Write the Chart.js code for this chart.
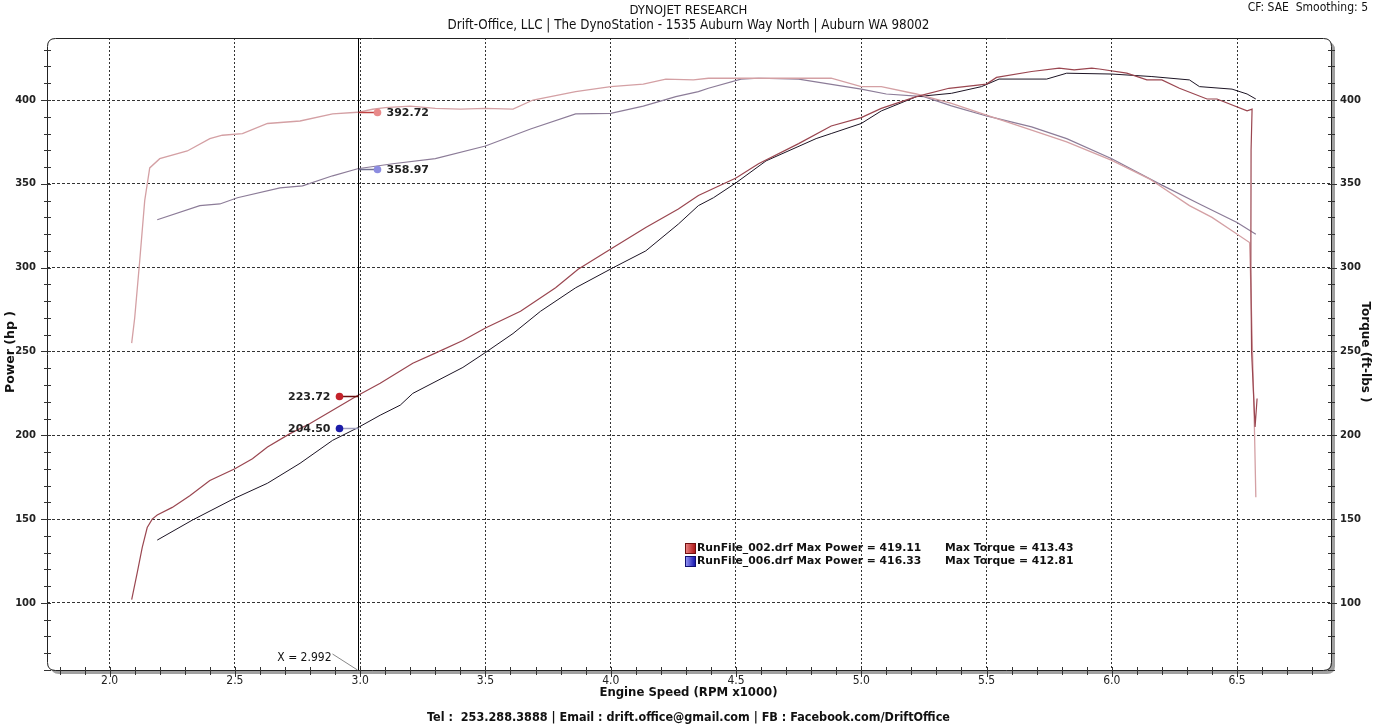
<!DOCTYPE html>
<html><head><meta charset="utf-8">
<script src="https://cdn.jsdelivr.net/npm/chart.js@4.4.1/dist/chart.umd.min.js"></script>
<style>
html,body{margin:0;padding:0;background:#fff;width:1377px;height:724px;overflow:hidden}
#wrap{position:relative;width:1377px;height:724px}
canvas{position:absolute;left:0;top:0}
.t{position:absolute;white-space:pre;color:#111;line-height:14px}
.c{font-family:"DejaVu Sans Condensed","Liberation Sans Narrow",sans-serif}
.b{font-family:"DejaVu Sans","Verdana",sans-serif;font-weight:bold}
.box{position:absolute;width:9px;height:9px}
</style></head><body>
<div id="wrap">
<canvas id="c" width="1377" height="724"></canvas>
<div class="t c" style="left:0;width:1377px;text-align:center;top:3px;font-size:13px">DYNOJET RESEARCH</div>
<div class="t c" style="left:0;width:1377px;text-align:center;top:18px;font-size:13.3px">Drift-Office, LLC | The DynoStation - 1535 Auburn Way North | Auburn WA 98002</div>
<div class="t c" style="right:9px;top:0px;font-size:12px">CF: SAE  Smoothing: 5</div>
<div class="t c" style="left:0;width:1377px;text-align:center;top:685px;font-size:13px;font-weight:bold">Engine Speed (RPM x1000)</div>
<div class="t c" style="left:0;width:1377px;text-align:center;top:710px;font-size:12.5px;font-weight:bold">Tel :  253.288.3888 | Email : drift.office@gmail.com | FB : Facebook.com/DriftOffice</div>
<div class="t b" style="left:-90px;width:200px;text-align:center;top:345px;font-size:12.5px;transform:rotate(-90deg)">Power (hp )</div>
<div class="t b" style="left:1266px;width:200px;text-align:center;top:345px;font-size:12px;transform:rotate(90deg)">Torque (ft-lbs )</div>
<div class="box" style="left:685px;top:543px;background:linear-gradient(to right,#e88080,#b01818);border:1px solid #701010"></div>
<div class="t b" style="left:697px;top:541px;font-size:10.8px">RunFile_002.drf Max Power = 419.11</div>
<div class="t b" style="left:945px;top:541px;font-size:10.8px">Max Torque = 413.43</div>
<div class="box" style="left:685px;top:556px;background:linear-gradient(to right,#9090f0,#1818b0);border:1px solid #101070"></div>
<div class="t b" style="left:697px;top:554px;font-size:10.8px">RunFile_006.drf Max Power = 416.33</div>
<div class="t b" style="left:945px;top:554px;font-size:10.8px">Max Torque = 412.81</div>
</div>
<script>
// ---- data ----
const p002Rpm = [2.088,2.11,2.13,2.15,2.17,2.19,2.25,2.32,2.40,2.50,2.57,2.63,2.72,2.80,2.89,2.99,3.08,3.21,3.30,3.41,3.50,3.64,3.78,3.87,4.01,4.14,4.27,4.35,4.50,4.59,4.75,4.88,5.00,5.08,5.22,5.35,5.50,5.54,5.68,5.79,5.85,5.92,5.95,6.06,6.14,6.20,6.27,6.38,6.42,6.54,6.56,6.556,6.555,6.558,6.572,6.58];
const p002Hp  = [102,118,133,145,150,152.5,157,164,173,180,186,193,201,207,215,223.7,231,243,249,256.5,264,274,288,299,312,324,335,343,353.5,362,374,384.5,389.5,395,402,407,409.5,413.5,417,419,418,419,418.5,416,412,412,407,400.6,400.6,393.5,394.6,370,300,250,205,222];
const p006Rpm = [2.19,2.33,2.50,2.63,2.76,2.89,2.99,3.08,3.16,3.21,3.41,3.50,3.61,3.72,3.86,4.01,4.14,4.27,4.35,4.41,4.50,4.62,4.82,4.88,5.00,5.08,5.22,5.36,5.48,5.55,5.74,5.82,6.00,6.16,6.31,6.35,6.48,6.54,6.575];
const p006Hp  = [137.5,149.4,162.5,171.4,183.3,197,204.5,212,218,225,240.5,249.4,260.7,274,288,300,310,326,337,341.7,350.6,363.7,377,380,386,393.5,402,404,408,412.5,412.5,416,415.5,414,412,408,406.5,403.6,400.6];
const t002Rpm = [2.088,2.10,2.12,2.14,2.16,2.20,2.31,2.40,2.45,2.53,2.63,2.76,2.89,2.99,3.05,3.10,3.20,3.30,3.40,3.50,3.61,3.69,3.86,4.00,4.13,4.22,4.33,4.39,4.59,4.68,4.88,5.00,5.08,5.22,5.36,5.50,5.68,5.82,6.00,6.15,6.31,6.40,6.48,6.55,6.553,6.56,6.57,6.575];
const t002Tq  = [255,270,304,340,359.5,365,369.6,377,379,380,386,387.5,391.7,392.7,394.5,395.5,396.4,395,394.6,395,394.6,400,405,408,409.5,412.5,412,413,413,413,413,408,408,403.6,398,391,382,375,364,353,337,330,322,315,300,260,200,163];
const t006Rpm = [2.19,2.36,2.44,2.51,2.68,2.77,2.89,2.99,3.13,3.30,3.50,3.68,3.86,4.00,4.13,4.26,4.35,4.39,4.52,4.59,4.75,5.00,5.10,5.25,5.36,5.50,5.68,5.82,6.00,6.19,6.35,6.50,6.575];
const t006Tq  = [328.6,337,338,341.7,347.6,348.8,354.8,359,362,365,372.6,382.7,391.7,392,396.4,402,405,407,412.5,413,412.5,406.5,403.6,402,396.5,390.5,384,377,365,350,338,327,320];
const xTickValues = [2.0,2.5,3.0,3.5,4.0,4.5,5.0,5.5,6.0,6.5];
const yTickValues = [100,150,200,250,300,350,400];
const cursorRpm = 2.992;
const cursorValues = [223.72, 204.50, 392.72, 358.97];

const pts = (xs, ys) => xs.map((x,i)=>({x:x, y:ys[i]}));
const L=47, R=1331, T=38, B=670;

const framePlugin = {
  id:'frame',
  beforeDraw(chart){
    const {ctx, chartArea:a} = chart;
    ctx.save();
    ctx.fillStyle='#a0a0a0';
    rr(ctx,a.left+4,a.top+4,a.right-a.left,a.bottom-a.top,8); ctx.fill();
    ctx.fillStyle='#fff';
    rr(ctx,a.left,a.top,a.right-a.left,a.bottom-a.top,8); ctx.fill();
    ctx.restore();
  },
  afterDraw(chart){
    const {ctx, chartArea:a, scales} = chart;
    ctx.save();
    ctx.strokeStyle='#222'; ctx.lineWidth=1;
    rr(ctx,a.left+0.5,a.top+0.5,a.right-a.left,a.bottom-a.top,8); ctx.stroke();
    // minor ticks
    ctx.strokeStyle='#333';
    ctx.beginPath();
    for(let v=60; v<=430; v+=10){
      const y=Math.round(scales.y.getPixelForValue(v))+0.5;
      const m = v%50===0;
      ctx.moveTo(a.left-(m?6:3),y); ctx.lineTo(a.left+4,y);
      ctx.moveTo(a.right-3,y); ctx.lineTo(a.right+(m?6:4),y);
    }
    for(let k=18; k<=68; k++){
      const v=k/10;
      const x=Math.round(scales.x.getPixelForValue(v))+0.5;
      const m = k%5===0;
      ctx.moveTo(x,a.bottom-3); ctx.lineTo(x,a.bottom+(m?7:5));
    }
    ctx.stroke();
    // cursor
    const cx=Math.round(scales.x.getPixelForValue(cursorRpm))+0.5;
    ctx.strokeStyle='#000';
    ctx.beginPath(); ctx.moveTo(cx,a.top); ctx.lineTo(cx,a.bottom); ctx.stroke();
    ctx.strokeStyle='#888';
    ctx.beginPath(); ctx.moveTo(cx-26,a.bottom-16); ctx.lineTo(cx-1,a.bottom); ctx.stroke();
    ctx.fillStyle='#111';
    ctx.font='12px "DejaVu Sans Condensed","Liberation Sans Narrow",sans-serif';
    ctx.textAlign='right'; ctx.textBaseline='middle';
    ctx.fillText('X = '+cursorRpm.toFixed(3), cx-27, a.bottom-12);
    // value markers
    const mk = [
      {v:cursorValues[0], side:-1, dot:'#c4222a', line:'#6a1010'},
      {v:cursorValues[1], side:-1, dot:'#1c1ca8', line:'#a0a0c0'},
      {v:cursorValues[2], side:1, dot:'#e88a8a', line:'#c04040'},
      {v:cursorValues[3], side:1, dot:'#8c8ce0', line:'#707090'}
    ];
    ctx.font='bold 11px "DejaVu Sans",sans-serif';
    mk.forEach(m=>{
      const y=Math.round(scales.y.getPixelForValue(m.v))+0.5;
      const dx = cx + m.side*19;
      ctx.strokeStyle=m.line; ctx.lineWidth=1.5;
      ctx.beginPath(); ctx.moveTo(cx,y); ctx.lineTo(dx,y); ctx.stroke();
      ctx.fillStyle=m.dot;
      ctx.beginPath(); ctx.arc(dx,y,3.8,0,Math.PI*2); ctx.fill();
      ctx.fillStyle='#222';
      ctx.textAlign = m.side<0?'right':'left';
      ctx.fillText(m.v.toFixed(2), dx + m.side*9, y+1);
    });
    ctx.restore();
  }
};
function rr(ctx,x,y,w,h,r){
  ctx.beginPath();
  ctx.moveTo(x+r,y); ctx.lineTo(x+w-r,y); ctx.quadraticCurveTo(x+w,y,x+w,y+r);
  ctx.lineTo(x+w,y+h-r); ctx.quadraticCurveTo(x+w,y+h,x+w-r,y+h);
  ctx.lineTo(x+r,y+h); ctx.quadraticCurveTo(x,y+h,x,y+h-r);
  ctx.lineTo(x,y+r); ctx.quadraticCurveTo(x,y,x+r,y); ctx.closePath();
}

const yCommon = {
  type:'linear', min:60, max:437,
  afterBuildTicks(s){ s.ticks = yTickValues.map(v=>({value:v})); },
  ticks:{color:'#222', font:{family:'"DejaVu Sans",sans-serif', size:10, weight:'bold'}, padding:11},
  border:{display:false}
};

new Chart(document.getElementById('c'), {
  type:'line',
  data:{datasets:[
    {label:'Power 002', data:pts(p002Rpm,p002Hp), yAxisID:'y', borderColor:'#9a4650', borderWidth:1.2},
    {label:'Torque 002', data:pts(t002Rpm,t002Tq), yAxisID:'y2', borderColor:'#d4a0a4', borderWidth:1.3},
    {label:'Power 006', data:pts(p006Rpm,p006Hp), yAxisID:'y', borderColor:'#1c1424', borderWidth:1},
    {label:'Torque 006', data:pts(t006Rpm,t006Tq), yAxisID:'y2', borderColor:'#8c7c98', borderWidth:1.2}
  ]},
  options:{
    responsive:false, animation:false, devicePixelRatio:1,
    layout:{padding:{top:T, left:0, right:0, bottom:0}},
    elements:{point:{radius:0}, line:{tension:0}},
    plugins:{legend:{display:false}, tooltip:{enabled:false}, title:{display:false}},
    scales:{
      x:{type:'linear', min:1.75, max:6.875,
        afterBuildTicks(s){ s.ticks = xTickValues.map(v=>({value:v})); },
        afterFit(s){ s.height = 724-B; },
        ticks:{color:'#222', font:{family:'"DejaVu Sans Condensed","Liberation Sans Narrow",sans-serif', size:12}, padding:4, callback:v=>v.toFixed(1)},
        grid:{color:'#333', lineWidth:1, drawTicks:false},
        border:{display:false, dash:[2,2]}
      },
      y:Object.assign({}, yCommon, {position:'left',
        afterFit(s){ s.width = L; },
        grid:{color:'#333', lineWidth:1, drawTicks:false},
        border:{display:false, dash:[3,2]}
      }),
      y2:Object.assign({}, yCommon, {position:'right',
        afterFit(s){ s.width = 1377-R; },
        grid:{display:false, drawTicks:false},
        ticks:Object.assign({}, yCommon.ticks, {padding:9})
      })
    }
  },
  plugins:[framePlugin]
});
</script>
</body></html>
